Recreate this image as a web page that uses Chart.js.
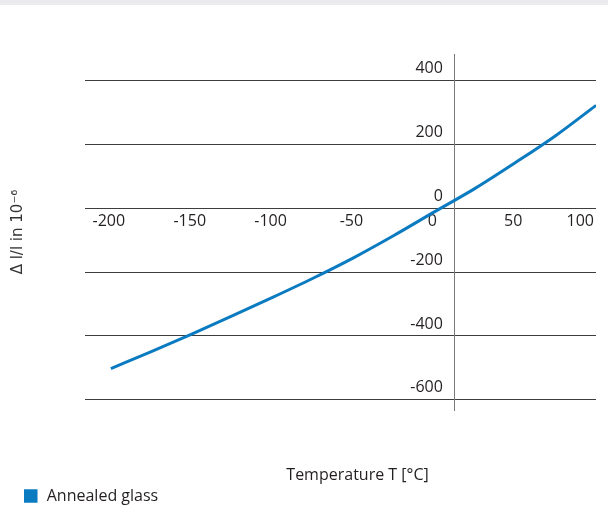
<!DOCTYPE html>
<html><head><meta charset="utf-8">
<script src="https://cdn.jsdelivr.net/npm/chart.js@4.4.0/dist/chart.umd.min.js"></script>
<style>
html,body{margin:0;padding:0;background:#fff;}
#wrap{position:relative;width:608px;height:507px;}
#band{position:absolute;left:0;top:0;width:608px;height:5px;background:#ebebed;}
canvas{position:absolute;left:0;top:0;}
</style></head><body>
<div id="wrap"><canvas id="c" width="608" height="507"></canvas><div id="band"></div></div>
<script>
// ---- data ----
const temperatures = [-200, -175, -150, -125, -100, -75, -50, -25, 0, 25, 50, 75, 100];
const expansion = [-502, -449, -394, -337, -279, -219, -155, -85, -11, 62, 143, 228, 323];
const xTickValues = [-200, -150, -100, -50, 0, 50, 100];
const yTickValues = [-600, -400, -200, 0, 200, 400];
const seriesName = 'Annealed glass';
const xTitle = 'Temperature T [°C]';
const yTitle = 'Δ l/l in 10⁻⁶';

// ---- style ----
const BLUE = '#0b7bc1';
const TEXT = '#231f20';
const FONT = "'Open Sans', sans-serif";
const FS = 16;

Chart.defaults.font.family = FONT;
Chart.defaults.font.size = FS;
Chart.defaults.color = TEXT;

const setTicks = vals => scale => { scale.ticks = vals.map(v => ({ value: v })); };

const xTitlePlugin = {
  id: 'xTitleText',
  afterDraw(chart) {
    const { ctx, chartArea } = chart;
    ctx.save();
    ctx.font = FS + "px " + FONT;
    ctx.fillStyle = TEXT;
    ctx.textAlign = 'center';
    ctx.textBaseline = 'middle';
    ctx.fillText(xTitle, (chartArea.left + chartArea.right) / 2 + 17, chartArea.bottom + 65);
    ctx.restore();
  }
};

const Y_MIN = -632, Y_MAX = 484;

new Chart(document.getElementById('c'), {
  type: 'line',
  data: {
    datasets: [{
      label: seriesName,
      data: temperatures.map((t, i) => ({ x: t, y: expansion[i] })),
      borderColor: BLUE,
      backgroundColor: BLUE,
      borderWidth: 3,
      pointRadius: 0,
      tension: 0.4,
      cubicInterpolationMode: 'monotone',
      fill: false
    }]
  },
  options: {
    responsive: false,
    animation: false,
    devicePixelRatio: 1,
    layout: { padding: { left: 12.75, right: 12, top: 54, bottom: -7 } },
    plugins: {
      tooltip: { enabled: false },
      legend: {
        position: 'bottom',
        align: 'start',
        labels: {
          usePointStyle: true,
          pointStyle: 'rect',
          boxWidth: FS,
          boxHeight: 13.5,
          padding: 10,
          color: TEXT,
          font: { size: FS },
          generateLabels: chart => Chart.defaults.plugins.legend.labels.generateLabels(chart)
            .map(l => Object.assign(l, { lineWidth: 0, pointStyle: 'rect' }))
        }
      }
    },
    scales: {
      x: {
        type: 'linear',
        position: { y: 0 },
        min: -216,
        max: 100,
        // leading unlabeled tick at the scale edge so that 'inner' alignment only affects the last label
        afterBuildTicks: s => { s.ticks = [{ value: s.min }].concat(xTickValues.map(v => ({ value: v }))); },
        afterFit: s => { s.paddingLeft = 0; s.paddingRight = 0; },
        grid: { display: false, drawTicks: false },
        border: { display: false },
        ticks: {
          align: 'inner',
          labelOffset: -2,
          maxRotation: 0,
          autoSkip: false,
          padding: 3,
          color: TEXT,
          font: { size: FS },
          callback: v => (xTickValues.includes(v) ? String(v) : '')
        }
      },
      y: {
        type: 'linear',
        position: { x: 12.5 },
        min: Y_MIN,
        max: Y_MAX,
        afterBuildTicks: setTicks(yTickValues),
        afterFit: s => { s.paddingTop = 0; s.paddingBottom = 0; },
        grid: { color: '#3d3d3d', lineWidth: 1, drawTicks: false },
        border: { display: true, color: '#7a7a7a', width: 1 },
        ticks: { display: false }
      },
      yLab: {
        type: 'linear',
        axis: 'y',
        position: { x: 5.3 },
        min: Y_MIN,
        max: Y_MAX,
        afterBuildTicks: setTicks(yTickValues),
        afterFit: s => { s.paddingTop = 0; s.paddingBottom = 0; },
        grid: { display: false, drawTicks: false },
        border: { display: false },
        ticks: { labelOffset: -12, padding: 0, color: TEXT, font: { size: FS } }
      },
      yPad: {
        type: 'linear',
        axis: 'y',
        position: 'left',
        grid: { display: false, drawTicks: false },
        border: { display: false },
        ticks: { display: false },
        title: {
          display: true,
          text: yTitle,
          color: '#333',
          font: { family: "'DejaVu Sans', sans-serif", size: 15, lineHeight: 1.2 },
          padding: { top: -3.25, bottom: 0 }
        },
        afterFit: s => { s.width = 72.25; }
      },
      xPad: {
        type: 'linear',
        axis: 'x',
        position: 'bottom',
        grid: { display: false, drawTicks: false },
        border: { display: false },
        ticks: { display: false },
        afterFit: s => { s.height = 68; }
      }
    }
  },
  plugins: [xTitlePlugin]
});
</script>
</body></html>
